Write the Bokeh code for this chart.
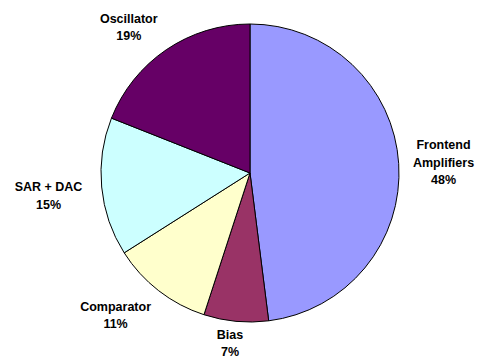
import math

from bokeh.core.properties import value
from bokeh.embed import file_html
from bokeh.models import ColumnDataSource, Range1d
from bokeh.plotting import figure
from bokeh.resources import INLINE

# Power breakdown by block (percent of total)
blocks = ["Frontend\nAmplifiers", "Bias", "Comparator", "SAR + DAC", "Oscillator"]
shares = [48, 7, 11, 15, 19]
colors = ["#9999FF", "#993366", "#FFFFCC", "#CCFFFF", "#660066"]

W, H = 479, 360
cx, cy, R = 249.5, 187.5, 149.0

# Label placement around the pie: distance from centre and small angular nudge (deg)
label_dist = [193.8, 171.5, 196.0, 202.8, 189.4]
label_nudge = [-0.5, -1.3, -5.5, 1.1, 5.6]

total = float(sum(shares))
starts, ends, lx, ly, texts = [], [], [], [], []
cum = 0.0
for name, s, d, nudge in zip(blocks, shares, label_dist, label_nudge):
    a0 = math.pi / 2 - 2 * math.pi * cum / total
    a1 = math.pi / 2 - 2 * math.pi * (cum + s) / total
    starts.append(a0)
    ends.append(a1)
    mid = (a0 + a1) / 2 + math.radians(nudge)
    lx.append(cx + d * math.cos(mid))
    ly.append(cy + d * math.sin(mid))
    texts.append(f"{name}\n{s}%")
    cum += s

src = ColumnDataSource(dict(start=starts, end=ends, color=colors))
lab = ColumnDataSource(dict(x=lx, y=ly, text=texts))

p = figure(width=W, height=H, output_backend="svg", toolbar_location=None,
           x_range=Range1d(0, W), y_range=Range1d(0, H),
           min_border=0, outline_line_color=None)
p.axis.visible = False
p.grid.visible = False
p.background_fill_color = "white"
p.border_fill_color = "white"

p.wedge(x=cx, y=cy, radius=R, start_angle="start", end_angle="end",
        direction="clock", fill_color="color", line_color="black",
        line_width=1, source=src)

p.text(x="x", y="y", text="text", source=lab,
       text_font=value("Liberation Sans"), text_font_style="bold",
       text_font_size="12.5px", text_align="center", text_baseline="middle",
       text_line_height=1.25, text_color="black")

open("out.html", "w").write(file_html(p, INLINE))
